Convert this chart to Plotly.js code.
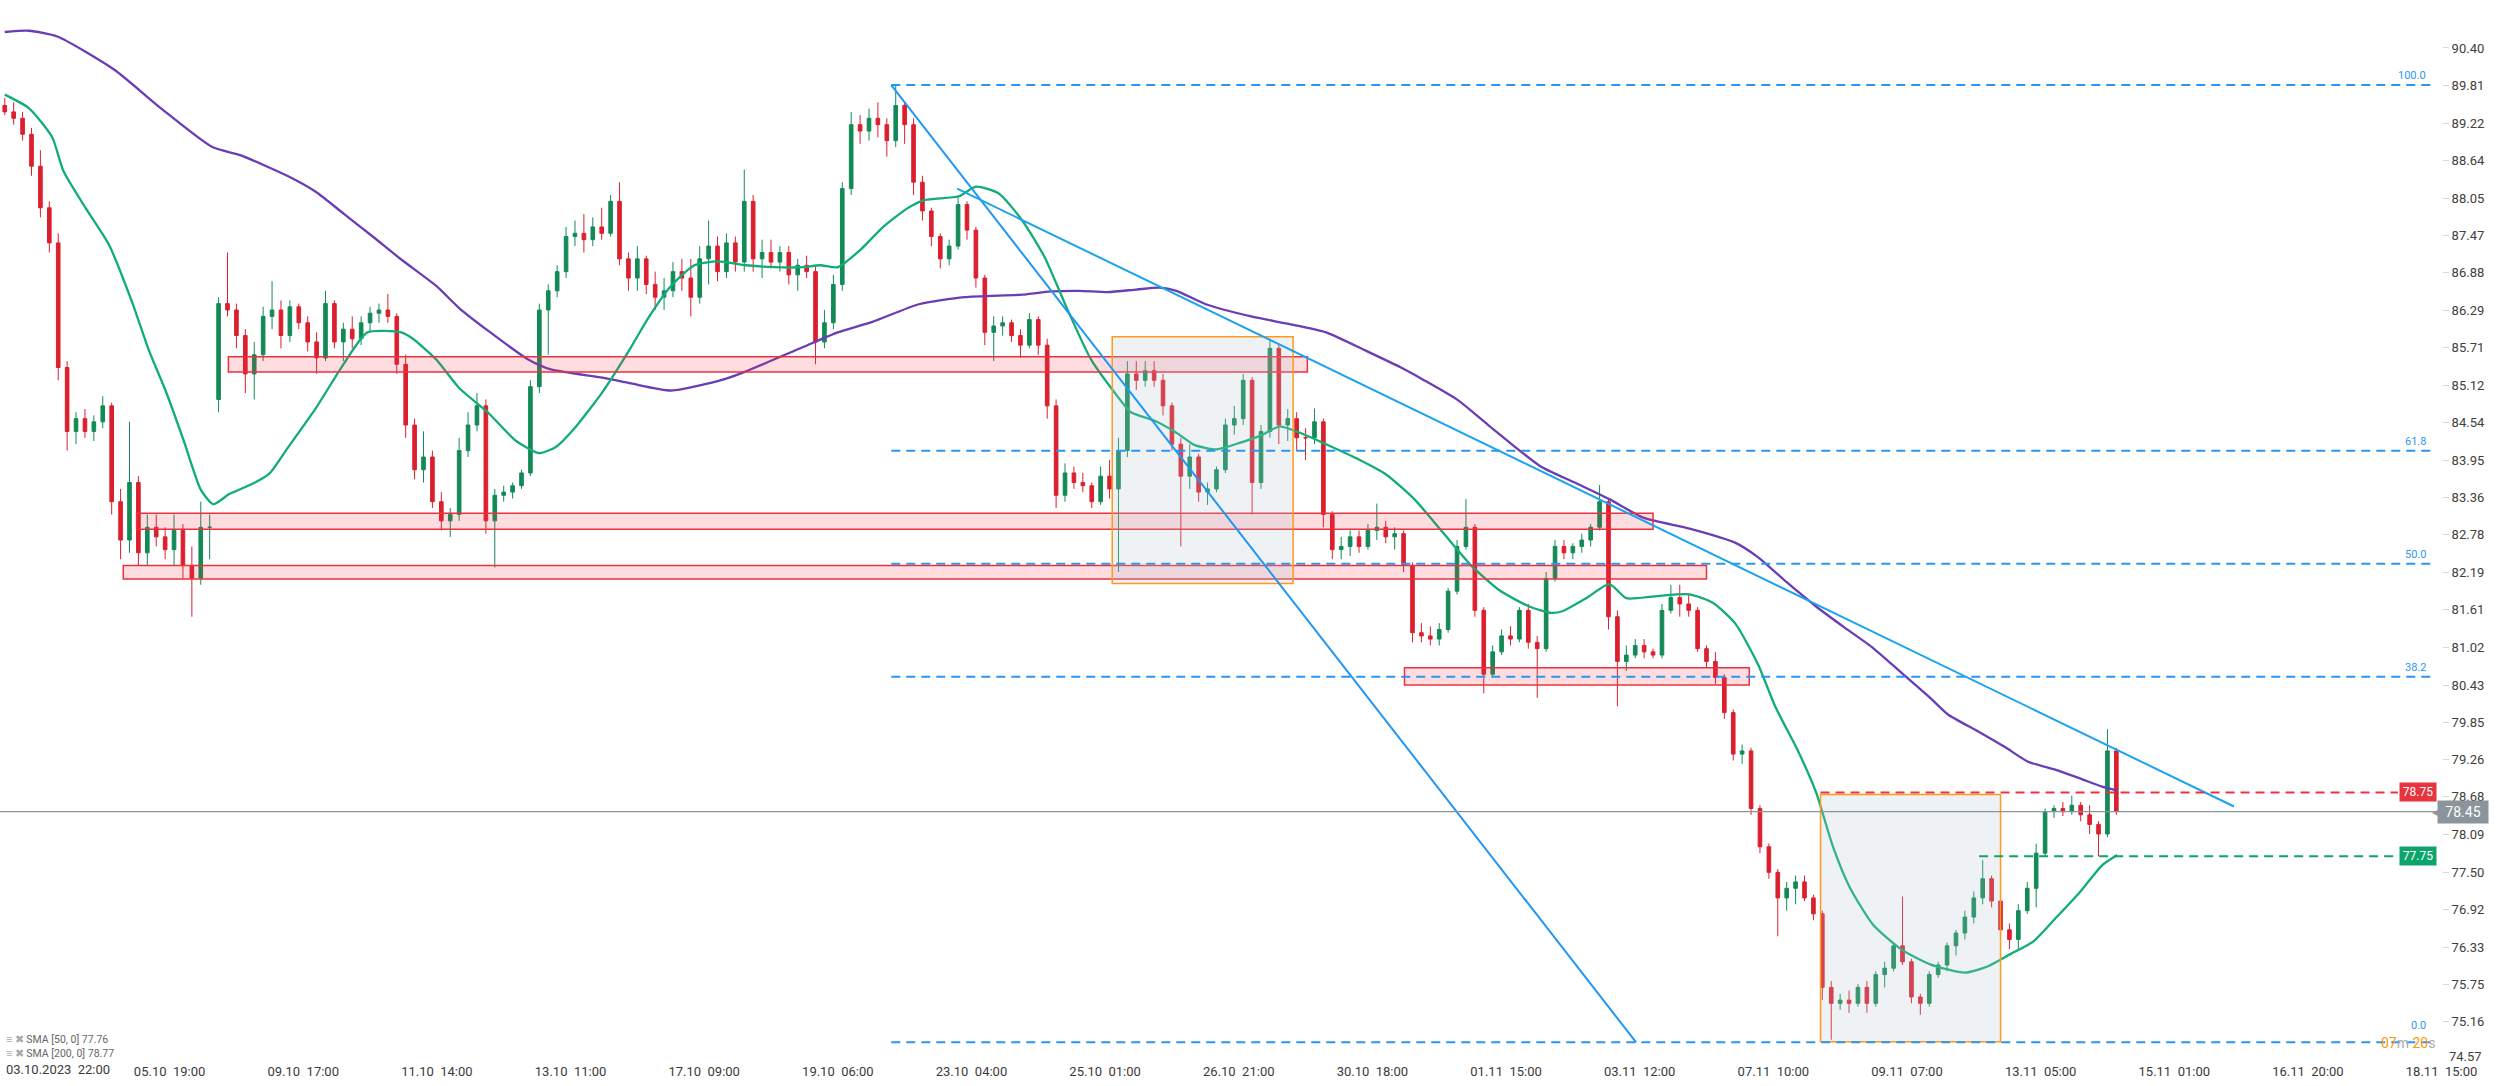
<!DOCTYPE html>
<html><head><meta charset="utf-8">
<script src="https://cdn.plot.ly/plotly-3.0.1.min.js"></script>
<style>html,body{margin:0;padding:0;background:#fff;}#chart{width:2506px;height:1086px;}</style>
</head><body><div id="chart"></div>
<script>
// ---------- DATA (3-hour candles) ----------
const tickLabels = ['03.10.2023\u00a0\u00a022:00','05.10\u00a0\u00a019:00','09.10\u00a0\u00a017:00','11.10\u00a0\u00a014:00','13.10\u00a0\u00a011:00','17.10\u00a0\u00a009:00','19.10\u00a0\u00a006:00','23.10\u00a0\u00a004:00','25.10\u00a0\u00a001:00','26.10\u00a0\u00a021:00','30.10\u00a0\u00a018:00','01.11\u00a0\u00a015:00','03.11\u00a0\u00a012:00','07.11\u00a0\u00a010:00','09.11\u00a0\u00a007:00','13.11\u00a0\u00a005:00','15.11\u00a0\u00a001:00','16.11\u00a0\u00a020:00','18.11\u00a0\u00a015:00'];

const openP = [89.50,89.40,89.30,89.05,88.55,87.90,87.35,85.40,84.40,84.60,84.40,84.55,84.80,83.30,82.70,83.60,82.50,82.90,82.75,82.55,
82.85,82.30,82.10,82.90,84.90,86.40,86.30,85.90,85.30,85.60,86.20,86.30,85.90,86.35,86.10,85.80,85.55,86.40,85.80,86.00,
85.85,86.10,86.25,86.30,86.20,85.45,84.50,83.80,84.00,83.30,83.00,83.10,84.10,84.50,84.80,83.00,83.40,83.45,83.55,83.75,
85.10,86.30,86.60,86.90,87.45,87.50,87.40,87.60,87.50,88.00,87.10,86.80,87.10,86.70,86.50,86.60,86.90,86.80,86.50,87.10,
87.30,86.90,87.35,87.05,88.00,87.10,87.20,87.05,87.20,86.85,87.00,86.90,85.80,86.10,86.70,88.20,89.20,89.10,89.30,89.20,
88.95,89.50,89.20,88.30,87.85,87.45,87.10,87.30,87.95,87.55,86.80,85.95,86.05,86.10,85.90,85.75,86.15,85.75,84.80,83.40,
83.75,83.60,83.55,83.30,83.70,83.50,84.10,85.30,85.20,85.35,85.20,84.80,84.20,83.70,84.00,83.45,83.50,83.80,84.50,84.60,
85.20,83.60,84.40,85.70,84.50,84.60,84.30,84.30,84.55,83.10,82.55,82.60,82.75,82.60,82.85,82.90,82.75,82.80,82.30,81.25,
81.20,81.15,81.30,81.90,82.60,82.90,81.60,80.60,80.95,81.20,81.15,81.60,81.10,81.00,82.10,82.60,82.50,82.60,82.70,82.90,
83.30,81.50,80.80,80.90,81.05,80.95,80.90,81.60,81.80,81.70,81.60,81.00,80.80,80.55,80.00,79.35,79.40,78.50,77.90,77.50,
77.10,77.25,77.35,77.10,76.85,75.70,75.45,75.50,75.45,75.70,75.45,75.90,76.00,76.35,76.10,75.55,75.45,75.90,76.05,76.35,
76.55,76.80,77.10,77.40,77.05,76.60,76.45,76.90,77.25,77.80,78.45,78.50,78.45,78.55,78.40,78.25,78.10,79.40];
const highP = [89.62,89.55,89.40,89.15,88.80,88.00,87.50,85.50,84.70,84.75,84.65,84.95,84.85,83.50,84.55,83.70,83.10,83.10,82.90,83.10,
82.95,82.60,83.30,83.10,86.50,87.20,86.40,86.00,85.80,86.35,86.75,86.45,86.45,86.40,86.20,85.95,86.60,86.45,86.10,86.20,
86.20,86.35,86.40,86.55,86.25,85.60,84.60,84.40,84.10,83.45,83.20,84.30,84.70,85.00,84.90,83.50,83.55,83.60,83.80,85.20,
86.40,86.70,87.00,87.60,87.70,87.80,87.75,87.90,88.10,88.30,87.20,87.30,87.15,86.90,86.80,87.05,87.10,87.10,87.30,87.70,
87.45,87.50,87.45,88.50,88.10,87.40,87.40,87.30,87.30,87.10,87.15,87.00,86.30,86.85,88.30,89.40,89.35,89.45,89.55,89.30,
89.81,89.55,89.30,88.40,87.90,87.50,87.40,88.10,88.00,87.60,86.85,86.20,86.20,86.15,86.00,86.25,86.20,85.85,84.90,83.90,
83.85,83.75,83.60,83.85,83.95,84.30,85.50,85.50,85.50,85.50,85.30,84.85,84.30,84.20,84.05,83.60,83.85,84.60,84.80,85.30,
85.25,84.50,85.85,85.75,84.75,84.70,84.45,84.76,84.60,83.15,82.75,82.85,82.85,82.95,83.27,83.00,82.90,82.85,82.35,81.40,
81.35,81.40,81.95,82.70,83.34,82.95,81.65,81.05,81.30,81.35,81.65,81.70,81.20,82.20,82.70,82.70,82.65,82.80,82.95,83.56,
83.35,81.60,81.05,81.15,81.15,81.00,81.70,82.00,82.00,81.85,81.65,81.05,80.95,80.60,80.05,79.50,79.45,78.55,77.95,77.55,
77.35,77.45,77.45,77.15,76.90,75.80,75.60,75.65,75.75,75.80,75.95,76.10,76.40,77.12,76.15,75.60,75.95,76.10,76.40,76.60,
76.90,77.20,77.69,77.45,77.10,76.70,77.00,77.35,77.95,78.50,78.55,78.60,78.70,78.60,78.55,78.30,79.74,79.45];
const lowP = [89.35,89.20,88.95,88.40,87.75,87.20,85.20,84.10,84.20,84.30,84.25,84.45,83.10,82.40,82.50,82.30,82.30,82.60,82.40,82.30,
82.10,81.50,82.00,82.40,84.70,86.20,85.70,85.00,84.90,85.50,86.00,85.70,85.80,86.00,85.65,85.30,85.50,85.70,85.50,85.70,
85.75,85.95,86.10,86.10,85.30,84.30,83.65,83.60,83.20,82.85,82.75,83.00,84.00,84.40,82.80,82.27,83.30,83.35,83.50,83.70,
85.00,85.60,86.50,86.80,87.30,87.20,87.30,87.40,87.45,87.00,86.60,86.60,86.55,86.30,86.30,86.50,86.60,86.20,86.40,86.70,
86.75,86.80,86.90,86.90,86.90,86.80,86.95,86.90,86.70,86.60,86.80,85.45,85.70,86.00,86.60,88.10,88.90,88.95,89.00,88.70,
88.85,88.90,88.10,87.70,87.30,86.95,87.00,87.25,87.40,86.65,85.75,85.50,85.90,85.80,85.55,85.70,85.60,84.60,83.20,83.30,
83.50,83.45,83.20,83.25,83.35,82.20,84.00,85.05,85.10,85.10,84.65,84.10,82.60,83.50,83.30,83.25,83.45,83.75,84.35,84.50,
83.10,83.50,84.30,84.20,84.25,84.10,83.95,84.20,82.90,82.40,82.40,82.45,82.50,82.55,82.70,82.65,82.55,82.20,81.10,81.10,
81.05,81.05,81.25,81.85,82.55,81.50,80.30,80.55,80.90,81.05,81.10,81.00,80.23,80.95,82.05,82.40,82.40,82.50,82.60,82.85,
81.30,80.10,80.65,80.85,80.85,80.85,80.85,81.55,81.50,81.50,80.95,80.70,80.45,79.90,79.25,79.20,78.40,77.80,77.40,76.50,
76.90,77.00,77.05,76.75,75.50,74.88,75.35,75.30,75.40,75.30,75.40,75.70,75.95,76.05,75.45,75.27,75.40,75.85,75.95,76.20,
76.45,76.70,77.00,76.95,76.50,76.30,76.30,76.85,76.95,77.75,78.35,78.38,78.40,78.30,78.10,77.75,78.05,78.40];
const closeP = [89.40,89.30,89.05,88.55,87.90,87.35,85.40,84.40,84.60,84.40,84.55,84.80,83.30,82.70,83.60,82.50,82.90,82.75,82.55,82.85,
82.30,82.10,82.90,82.90,86.40,86.30,85.90,85.30,85.60,86.20,86.30,85.90,86.35,86.10,85.80,85.55,86.40,85.80,86.00,85.85,
86.10,86.25,86.30,86.20,85.45,84.50,83.80,84.00,83.30,83.00,83.10,84.10,84.50,84.80,83.00,83.40,83.45,83.55,83.75,85.10,
86.30,86.60,86.90,87.45,87.50,87.40,87.60,87.50,88.00,87.10,86.80,87.10,86.70,86.50,86.60,86.90,86.80,86.50,87.10,87.30,
86.90,87.35,87.05,88.00,87.10,87.20,87.05,87.20,86.85,87.00,86.90,85.80,86.10,86.70,88.20,89.20,89.10,89.30,89.20,88.95,
89.50,89.20,88.30,87.85,87.45,87.10,87.30,87.95,87.55,86.80,85.95,86.05,86.10,85.90,85.75,86.15,85.75,84.80,83.40,83.75,
83.60,83.55,83.30,83.70,83.50,84.10,85.30,85.20,85.35,85.20,84.80,84.20,83.70,84.00,83.45,83.50,83.80,84.50,84.60,85.20,
83.60,84.40,85.70,84.50,84.60,84.30,84.30,84.55,83.10,82.55,82.60,82.75,82.60,82.85,82.90,82.75,82.80,82.30,81.25,81.20,
81.15,81.30,81.90,82.60,82.90,81.60,80.60,80.95,81.20,81.15,81.60,81.10,81.00,82.10,82.60,82.50,82.60,82.70,82.90,83.30,
81.50,80.80,80.90,81.05,80.95,80.90,81.60,81.80,81.70,81.60,81.00,80.80,80.55,80.00,79.35,79.40,78.50,77.90,77.50,77.10,
77.25,77.35,77.10,76.85,75.70,75.45,75.50,75.45,75.70,75.45,75.90,76.00,76.35,76.10,75.55,75.45,75.90,76.05,76.35,76.55,
76.80,77.10,77.40,77.05,76.60,76.45,76.90,77.25,77.80,78.45,78.50,78.45,78.55,78.40,78.25,78.10,79.40,78.45];

const sma50X = [0,2.7,5.3,6.6,9.1,11.7,14.3,16.2,18.1,20.1,22.0,23.4,25.2,27.8,29.7,31.7,34.9,38.1,40.7,44.5,45.8,48.4,51.0,54.2,57.4,60.0,61.9,63.9,67.1,70.3,72.2,74.8,77.4,80.0,83.2,86.4,89.6,91.5,93.5,96.1,98.6,101.3,103.2,107.1,109.0,111.6,114.2,116.7,119.3,121.9,124.5,126.4,129.0,131.5,133.5,136.0,138.6,141.2,143.1,145.7,148.3,151.7,155.0,158.2,161.4,164.6,167.8,171.1,173.6,174.9,177.5,180.1,182.0,185.2,189.1,191.7,194.2,196.8,198.7,201.3,203.3,205.2,207.1,209.7,212.9,216.1,220.0,222.6,225.1,227.7,230.3,232.9,235.4,237.1];
const sma50Y = [89.67,89.46,89.01,88.47,87.89,87.32,86.42,85.66,85.02,84.25,83.49,83.26,83.42,83.58,83.74,84.13,84.76,85.47,85.95,85.95,85.85,85.53,85.08,84.70,84.25,84.06,84.16,84.44,85.02,85.72,86.17,86.68,87.00,87.06,87.00,86.97,86.97,87.00,86.97,87.25,87.60,87.89,88.02,88.08,88.23,88.12,87.70,87.13,86.30,85.53,85.02,84.70,84.57,84.38,84.19,84.12,84.22,84.35,84.48,84.36,84.20,83.98,83.73,83.34,82.82,82.30,81.91,81.66,81.56,81.59,81.79,82.01,81.79,81.82,81.85,81.72,81.40,80.75,80.10,79.39,78.75,77.90,77.26,76.68,76.29,76.06,75.93,76.03,76.22,76.42,76.80,77.19,77.61,77.77];
const sma200X = [0,2.7,5.9,12.3,17.5,23.3,26.5,31.7,34.9,38.1,41.3,44.5,48.4,51.0,54.2,58.7,61.3,67.1,70.3,74.8,80.6,83.2,89.6,93.5,97.3,102.6,107.7,114.2,117.4,120.6,123.8,127.0,129.6,131.5,134.8,139.9,143.8,148.3,152.8,156.7,159.2,163.1,166.5,172.3,176.2,180.1,183.9,189.1,194.2,196.8,200.0,203.3,206.5,209.7,212.9,216.1,218.1,221.3,224.5,227.1,230.3,232.9,235.4,237.1];
const sma200Y = [90.65,90.67,90.58,90.06,89.46,88.85,88.72,88.40,88.15,87.80,87.45,87.09,86.68,86.33,85.98,85.53,85.37,85.24,85.15,85.04,85.21,85.34,85.72,85.95,86.11,86.39,86.50,86.54,86.59,86.60,86.58,86.62,86.65,86.60,86.39,86.20,86.09,85.95,85.66,85.40,85.21,84.89,84.50,83.86,83.60,83.34,83.05,82.88,82.66,82.43,82.04,81.66,81.33,81.01,80.62,80.23,79.97,79.72,79.46,79.23,79.10,78.97,78.84,78.78];

const zoneX0 = [25.1, 14.8, 13.3, 157.1];
const zoneX1 = [146.2, 185.0, 191.0, 195.8];
const zoneLo = [85.33, 82.87, 82.09, 80.43];
const zoneHi = [85.57, 83.12, 82.30, 80.70];

const boxX0 = [124.3, 203.8];
const boxX1 = [144.6, 224.0];
const boxLo = [82.02, 74.85];
const boxHi = [85.88, 78.72];

const trendX0 = [99.5, 106.9];
const trendY0 = [89.82, 88.20];
const trendX1 = [183.1, 250.2];
const trendY1 = [74.84, 78.53];
const trendColors = ['#2196f3', '#1aa3ee'];

const fibLow = 74.84, fibHigh = 89.82;
const fibLevels = [0, 38.2, 50, 61.8, 100];
const fibLabels = ['0.0', '38.2', '50.0', '61.8', '100.0'];
const fibX0 = 99.5, fibX1 = 272.5;

const lastPrice = 78.45;
const resistLevel = 78.75, resistX0 = 203.8;
const supportLevel = 77.75, supportX0 = 221.6;
const sma50Last = '77.76', sma200Last = '78.77';

const yTicks = [90.40,89.81,89.22,88.64,88.05,87.47,86.88,86.29,85.71,85.12,84.54,83.95,83.36,82.78,82.19,81.61,81.02,80.43,79.85,79.26,78.68,78.09,77.50,76.92,76.33,75.75,75.16];
const yTickBottom = '74.57';

// ---------- LAYOUT CONSTANTS ----------
const W = 2506, H = 1086, MR = 64, MB = 24;
const plotW = W - MR, plotH = H - MB;
const UP = '#138a56', DN = '#dc1f2e';
const idx = openP.map((_, i) => i);
const barsPerLabel = 15, firstLabelIdx = 3.5;
const tickIdx = tickLabels.map((_, k) => firstLabelIdx + barsPerLabel * k);
const baseFont = 'Roboto, "Open Sans", sans-serif';

const traces = [
  {type: 'candlestick', x: idx, open: openP, high: highP, low: lowP, close: closeP,
   increasing: {line: {color: UP, width: 1}, fillcolor: UP},
   decreasing: {line: {color: DN, width: 1}, fillcolor: DN},
   whiskerwidth: 0, hoverinfo: 'skip', showlegend: false},
  {type: 'scatter', mode: 'lines', x: sma200X, y: sma200Y, line: {color: '#6a3cb5', width: 2.3, shape: 'spline', smoothing: 0.6}, hoverinfo: 'skip', showlegend: false},
  {type: 'scatter', mode: 'lines', x: sma50X, y: sma50Y, line: {color: '#10ad78', width: 2.3, shape: 'spline', smoothing: 0.6}, hoverinfo: 'skip', showlegend: false}
];

const shapes = [];
zoneX0.forEach((x0, k) => shapes.push({type: 'rect', xref: 'x', yref: 'y', x0: x0, x1: zoneX1[k], y0: zoneLo[k], y1: zoneHi[k],
  fillcolor: 'rgba(242,54,69,0.17)', line: {color: '#e8333f', width: 1.5}, layer: 'above'}));
boxX0.forEach((x0, k) => shapes.push({type: 'rect', xref: 'x', yref: 'y', x0: x0, x1: boxX1[k], y0: boxLo[k], y1: boxHi[k],
  fillcolor: 'rgba(180,198,205,0.22)', line: {color: '#ff9a1f', width: 1.5}, layer: 'above'}));
fibLevels.forEach(r => {
  const p = fibLow + (fibHigh - fibLow) * r / 100;
  shapes.push({type: 'line', xref: 'x', yref: 'y', x0: fibX0, x1: fibX1, y0: p, y1: p,
    line: {color: '#2b95f0', width: 2, dash: '9px,6px'}, layer: 'above'});
});
trendX0.forEach((x0, k) => shapes.push({type: 'line', xref: 'x', yref: 'y', x0: x0, y0: trendY0[k], x1: trendX1[k], y1: trendY1[k],
  line: {color: trendColors[k], width: 2}, layer: 'above'}));
shapes.push({type: 'line', xref: 'paper', yref: 'y', x0: 0, x1: 1, y0: lastPrice, y1: lastPrice, line: {color: '#8a959b', width: 1.2}, layer: 'above'});
shapes.push({type: 'line', xref: 'x', yref: 'y', x0: resistX0, x1: 268.6, y0: resistLevel, y1: resistLevel, line: {color: '#ee3340', width: 2, dash: '9px,6px'}, layer: 'above'});
shapes.push({type: 'line', xref: 'x', yref: 'y', x0: supportX0, x1: 268.6, y0: supportLevel, y1: supportLevel, line: {color: '#0fa36e', width: 2, dash: '9px,6px'}, layer: 'above'});

const annotations = [];
fibLevels.forEach((r, k) => {
  const p = fibLow + (fibHigh - fibLow) * r / 100;
  annotations.push({xref: 'x', yref: 'y', x: 272.0, y: p, text: fibLabels[k], showarrow: false,
    xanchor: 'right', yanchor: 'bottom', yshift: r === 0 ? 8 : 1, font: {size: 11, color: '#2f97f0', family: baseFont}});
});
annotations.push({xref: 'x', yref: 'y', x: 270.9, y: resistLevel, text: resistLevel.toFixed(2), showarrow: false,
  bgcolor: '#e8343f', font: {size: 12, color: '#fff', family: baseFont}, width: 34, height: 16, borderpad: 1});
annotations.push({xref: 'x', yref: 'y', x: 270.9, y: supportLevel, text: supportLevel.toFixed(2), showarrow: false,
  bgcolor: '#0ea56c', font: {size: 12, color: '#fff', family: baseFont}, width: 34, height: 16, borderpad: 1});
annotations.push({xref: 'paper', yref: 'y', x: 1, y: lastPrice, xanchor: 'left', xshift: -5, text: lastPrice.toFixed(2), showarrow: false,
  bgcolor: '#8a949a', font: {size: 14, color: '#fff', family: baseFont}, width: 46, height: 18, borderpad: 2});
annotations.push({xref: 'paper', yref: 'y', x: 1, y: lastPrice, xanchor: 'right', xshift: 4, text: '\u25C0', showarrow: false,
  font: {size: 15, color: '#8a949a', family: 'DejaVu Sans'}});
annotations.push({xref: 'paper', yref: 'paper', x: 1, y: 0, xanchor: 'left', yanchor: 'middle', xshift: 5, yshift: 6,
  text: yTickBottom, showarrow: false, font: {size: 13, color: '#404040', family: baseFont}});
annotations.push({xref: 'paper', yref: 'paper', x: 4 / plotW, y: 1 - 1069 / plotH, xanchor: 'left', yanchor: 'middle',
  text: tickLabels[0], showarrow: false, font: {size: 13, color: '#3a3a3a', family: baseFont}});
annotations.push({xref: 'x', yref: 'y', x: 273.0, y: fibLow, xanchor: 'right', yanchor: 'middle', yshift: -1,
  text: '<span style="color:#ff9800">07</span>m <span style="color:#ff9800">20</span>s', showarrow: false,
  font: {size: 14, color: '#a4acb0', family: baseFont}});
annotations.push({xref: 'paper', yref: 'paper', x: 4 / plotW, y: 1 - 1039 / plotH, xanchor: 'left', yanchor: 'middle',
  text: '<span style="color:#aaa">\u2261 \u2716</span> SMA [50, 0] ' + sma50Last, showarrow: false, font: {size: 10.5, color: '#666', family: baseFont}});
annotations.push({xref: 'paper', yref: 'paper', x: 4 / plotW, y: 1 - 1053 / plotH, xanchor: 'left', yanchor: 'middle',
  text: '<span style="color:#aaa">\u2261 \u2716</span> SMA [200, 0] ' + sma200Last, showarrow: false, font: {size: 10.5, color: '#666', family: baseFont}});

const layout = {
  width: W, height: H,
  margin: {l: 0, r: MR, t: 0, b: MB, pad: 0},
  paper_bgcolor: '#fff', plot_bgcolor: '#fff',
  showlegend: false, boxgap: 0.42, hovermode: false,
  font: {family: baseFont},
  xaxis: {type: 'linear', range: [-0.534, 273.55], tickvals: tickIdx.slice(1), ticktext: tickLabels.slice(1),
    showgrid: false, zeroline: false, showline: false, ticks: '',
    tickfont: {size: 13, color: '#3a3a3a', family: baseFont}, rangeslider: {visible: false}, fixedrange: true},
  yaxis: {side: 'right', range: [74.532, 91.151], tickvals: yTicks, ticktext: yTicks.map(v => v.toFixed(2)),
    showgrid: false, zeroline: false, showline: false, ticks: 'outside', ticklen: 6, tickcolor: '#d6d6d6',
    tickfont: {size: 13, color: '#404040', family: baseFont}, fixedrange: true},
  shapes: shapes, annotations: annotations
};

Plotly.newPlot('chart', traces, layout, {staticPlot: true, displayModeBar: false});
</script>
</body></html>
